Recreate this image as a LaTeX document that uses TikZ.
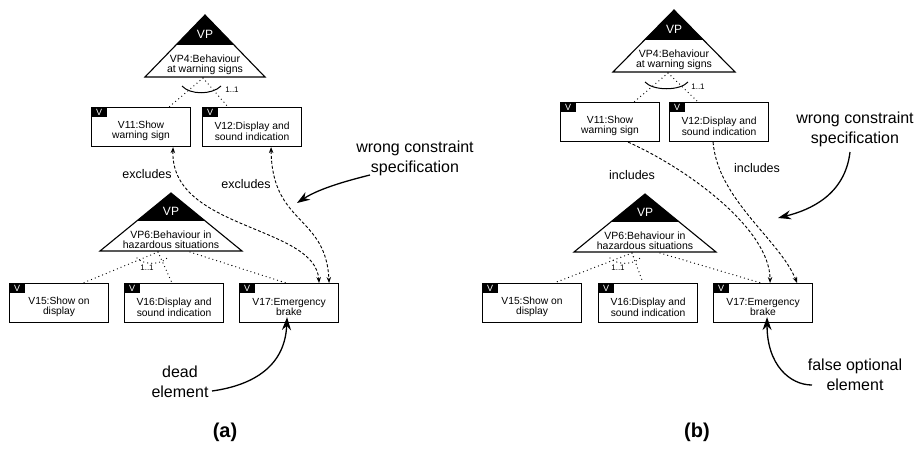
\documentclass[tikz,border=0pt]{standalone}
\usepackage{fontspec}
\setmainfont{Liberation Sans}
\usetikzlibrary{arrows.meta,calc}
\tikzset{
  vbox/.style={draw, line width=1.1pt, minimum width=99pt, minimum height=39pt, inner sep=0pt},
  vtag/.style={fill=black, text=white, minimum width=16pt, minimum height=10pt, inner sep=0pt, font=\fontsize{9}{9}\selectfont},
  vtext/.style={align=center, inner sep=0pt, font=\fontsize{10.3}{9.6}\selectfont},
  tri/.style={draw, line width=1.1pt, line join=miter},
  vplab/.style={text=white, inner sep=0pt, font=\fontsize{12}{12}\selectfont},
  tritext/.style={align=center, inner sep=0pt, font=\fontsize{10.5}{9.8}\selectfont},
  dots/.style={line width=1.3pt, dash pattern=on 0pt off 4pt, line cap=round},
  dsh/.style={line width=0.9pt, dash pattern=on 3pt off 2pt},
  dtip/.style={-{Stealth[length=6pt,width=4.5pt]}},
  ddtip/.style={{Stealth[length=6pt,width=4.5pt]}-{Stealth[length=6pt,width=4.5pt]}},
  ann/.style={line width=1.3pt, -{Stealth[length=13pt,width=9pt]}},
  anntext/.style={align=center, inner sep=0pt, font=\fontsize{16}{20}\selectfont},
  rel/.style={inner sep=0pt, font=\fontsize{12.5}{12.5}\selectfont},
  card/.style={inner sep=0pt, font=\fontsize{8}{8}\selectfont},
  sub/.style={inner sep=0pt, font=\fontsize{20}{20}\selectfont\bfseries}
}
\newcommand{\vptriangle}[6]{%
  \coordinate (#1top) at (#2,#3);
  \coordinate (#1l) at ({#2-#4},{#3+#5});
  \coordinate (#1r) at ({#2+#4},{#3+#5});
  \fill ($(#1top)$) -- ($(#1top)!0.48!(#1l)$) -- ($(#1top)!0.48!(#1r)$) -- cycle;
  \draw[tri] (#1top) -- (#1l) -- (#1r) -- cycle;
  \node[vplab] (#1vp) at (#2,{#3+0.31*#5}) {VP};
  \node[tritext] (#1txt) at (#2,{#3+0.8*#5}) {#6};
}
\newcommand{\vbx}[4]{%
  \node[vbox, anchor=north west] (#1) at (#2,#3) {};
  \node[vtag, anchor=north west] (#1v) at (#1.north west) {V};
  \node[vtext] (#1t) at ([yshift=-4pt]#1.center) {#4};
}
\begin{document}
\begin{tikzpicture}[x=1pt,y=-1pt]
\useasboundingbox (0,0) rectangle (923,450);

% ================= panel (a) =================
\vptriangle{pfa}{205}{15}{60}{62}{VP4:Behaviour\\at warning signs}
\vbx{vea}{91}{107}{V11:Show\\warning sign}
\vbx{vta}{202}{107}{V12:Display and\\sound indication}
\coordinate (ofa) at (203,78);
\draw[dots] (ofa) -- ($(vea.north west)!0.78!(vea.north east)$);
\draw[dots] (ofa) -- ($(vta.north west)!0.26!(vta.north east)$);
\draw[line width=1pt] (182,86) .. controls (190,95) and (212,95) .. (221,86);
\node[card] (c4a) at (232,90) {1..1};

\vptriangle{psa}{171}{193}{71}{58}{VP6:Behaviour in\\hazardous situations}
\vbx{vfa}{9}{283}{V15:Show on\\display}
\vbx{vxa}{124}{283}{V16:Display and\\sound indication}
\vbx{vsa}{239}{283}{V17:Emergency\\brake}
\coordinate (osa) at (158,252);
\coordinate (osa2) at (190,252);
\draw[dots] (osa) -- ($(vfa.north west)!0.74!(vfa.north east)$);
\draw[dots] (osa) -- ($(vxa.north west)!0.48!(vxa.north east)$);
\draw[dots] (osa2) -- ($(vsa.north west)!0.47!(vsa.north east)$);
\draw[dots] (137,258) .. controls (143,265) and (161,265) .. (167,258);
\node[card] (c6a) at (147,268) {1..1};

\draw[dsh,ddtip] ($(vea.south west)!0.82!(vea.south east)$) .. controls (170,230) and (315,225) .. ($(vsa.north west)!0.8!(vsa.north east)$);
\draw[dsh,ddtip] ($(vta.south west)!0.69!(vta.south east)$) .. controls (272,225) and (326,215) .. ($(vsa.north west)!0.9!(vsa.north east)$);
\node[rel] (exa1) at (147,174) {excludes};
\node[rel] (exa2) at (246,184) {excludes};

\node[anntext] (wca) at (415,158) {wrong constraint\\specification};
\coordinate (wcas) at (370,175);
\draw[ann] (wcas) .. controls (350,180) and (320,188) .. (297,203);

\node[anntext] (dea) at (180,382) {dead\\element};
\coordinate (deas) at (212,391);
\draw[ann] (deas) .. controls (255,385) and (285,365) .. ($(vsa.south west)!0.48!(vsa.south east)+(0,-6)$);

\node[sub] (la) at (225,432) {(a)};

% ================= panel (b) =================
\vptriangle{pfb}{674}{10}{61}{62}{VP4:Behaviour\\at warning signs}
\vbx{veb}{560}{102}{V11:Show\\warning sign}
\vbx{vtb}{669}{102}{V12:Display and\\sound indication}
\coordinate (ofb) at (668,73);
\draw[dots] (ofb) -- ($(veb.north west)!0.74!(veb.north east)$);
\draw[dots] (ofb) -- ($(vtb.north west)!0.29!(vtb.north east)$);
\draw[line width=1pt] (645,82) .. controls (653,91) and (680,91) .. (688,82);
\node[card] (c4b) at (698,87) {1..1};

\vptriangle{psb}{645}{194}{71}{58}{VP6:Behaviour in\\hazardous situations}
\vbx{vfb}{482}{283}{V15:Show on\\display}
\vbx{vxb}{598}{283}{V16:Display and\\sound indication}
\vbx{vsb}{713}{283}{V17:Emergency\\brake}
\coordinate (osb) at (632,253);
\coordinate (osb2) at (660,253);
\draw[dots] (osb) -- ($(vfb.north west)!0.72!(vfb.north east)$);
\draw[dots] (osb) -- ($(vxb.north west)!0.45!(vxb.north east)$);
\draw[dots] (osb2) -- ($(vsb.north west)!0.48!(vsb.north east)$);
\draw[dots] (610,258) .. controls (616,265) and (634,265) .. (640,258);
\node[card] (c6b) at (618,268) {1..1};

\draw[dsh,dtip] ($(veb.south west)!0.68!(veb.south east)$) .. controls (690,170) and (770,230) .. ($(vsb.north west)!0.57!(vsb.north east)$);
\draw[dsh,dtip] ($(vtb.south west)!0.44!(vtb.south east)$) .. controls (718,200) and (780,240) .. ($(vsb.north west)!0.84!(vsb.north east)$);
\node[rel] (inb1) at (632,175) {includes};
\node[rel] (inb2) at (757,168) {includes};

\node[anntext] (wcb) at (855,129) {wrong constraint\\specification};
\coordinate (wcbs) at (850,152);
\draw[ann] (wcbs) .. controls (845,195) and (810,210) .. (778,218);

\node[anntext] (fob) at (855,375) {false optional\\element};
\coordinate (fobs) at (812,385);
\draw[ann] (fobs) .. controls (790,385) and (767,365) .. ($(vsb.south west)!0.54!(vsb.south east)+(0,-6)$);

\node[sub] (lb) at (697,432) {(b)};
\end{tikzpicture}
\end{document}
